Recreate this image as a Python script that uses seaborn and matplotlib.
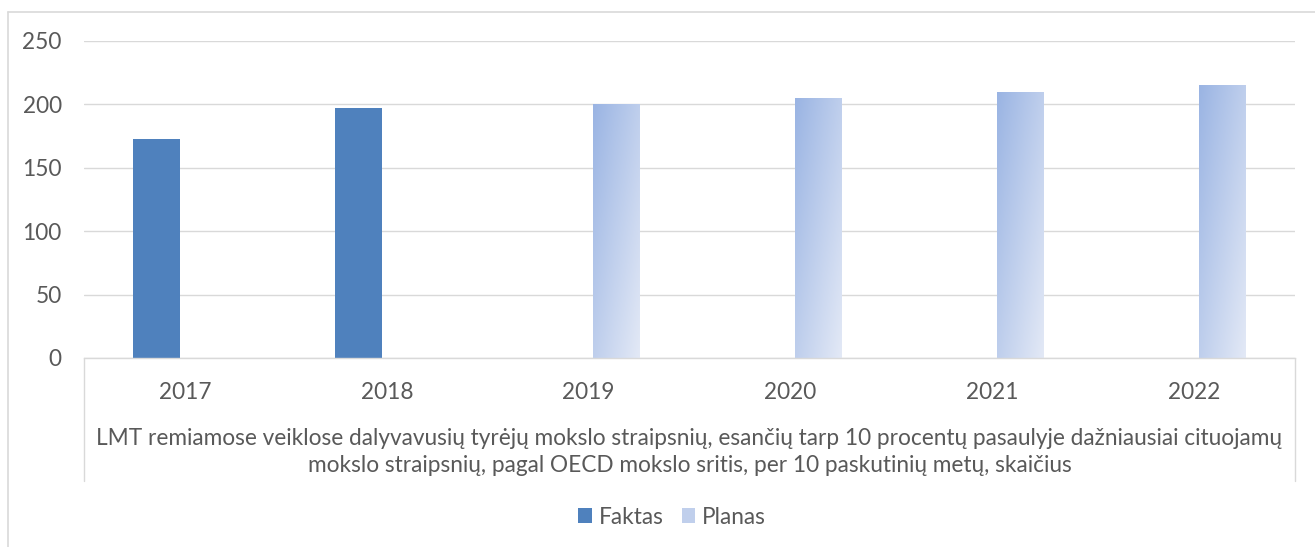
import numpy as np
import pandas as pd
import matplotlib.pyplot as plt
import seaborn as sns
from matplotlib.lines import Line2D
from matplotlib.patches import Patch

# Data
years = ["2017", "2018", "2019", "2020", "2021", "2022"]
fact_years = ["2017", "2018"]
fact_values = [173, 197]
plan_years = ["2019", "2020", "2021", "2022"]
plan_values = [200, 205, 210, 215]
series_names = ["Faktas", "Planas"]
y_ticks = [0, 50, 100, 150, 200, 250]
category_title = ("LMT remiamose veiklose dalyvavusių tyrėjų mokslo straipsnių, esančių tarp 10 procentų pasaulyje dažniausiai cituojamų\n"
                  "mokslo straipsnių, pagal OECD mokslo sritis, per 10 paskutinių metų, skaičius")

df = pd.DataFrame({
    "year": fact_years + plan_years,
    "series": ["Faktas"] * len(fact_years) + ["Planas"] * len(plan_years),
    "value": fact_values + plan_values,
})

sns.set_style("white")
plt.rcParams["font.family"] = ["Lato", "DejaVu Sans"]
text_color = "#595959"
grid_color = "#D9D9D9"
fact_color = "#4F81BD"
grad_top = np.array([0x9A, 0xB4, 0xE3]) / 255
grad_bot = np.array([0xE3, 0xE9, 0xF6]) / 255
fs = 16.3

fig = plt.figure(figsize=(13.15, 5.47), dpi=100)
ax = fig.add_axes([84 / 1315, 1 - 358 / 547, (1295 - 84) / 1315, 317 / 547])

sns.barplot(data=df, x="year", y="value", hue="series", order=years, hue_order=series_names,
            palette=[fact_color, "#C0CFEC"], width=0.56, gap=0.17, dodge=True,
            legend=False, ax=ax, errorbar=None, linewidth=0, saturation=1)

# gradient fill on the plan bars
ny, nx = 200, 40
u = np.linspace(0, 1, nx)[None, :]
v = np.linspace(0, 1, ny)[:, None]
t = (u + v) / 2
grad = grad_top[None, None, :] * (1 - t[..., None]) + grad_bot[None, None, :] * t[..., None]
for bar in ax.containers[1]:
    h = bar.get_height()
    if not np.isfinite(h) or h == 0:
        continue
    x0 = bar.get_x()
    w = bar.get_width()
    bar.set_facecolor("none")
    im = ax.imshow(grad, extent=(x0, x0 + w, 0, h), origin="upper", aspect="auto", zorder=bar.get_zorder())
    im.set_clip_path(bar)

ax.set_xlim(-0.5, 5.5)
ax.set_ylim(0, 250)
ax.set_yticks(y_ticks)
ax.yaxis.grid(True, color=grid_color, linewidth=1.0)
ax.set_axisbelow(True)
for side in ["top", "right", "left"]:
    ax.spines[side].set_visible(False)
ax.spines["bottom"].set_color(grid_color)
ax.spines["bottom"].set_linewidth(1.0)
ax.tick_params(axis="y", length=0, pad=16, labelsize=fs, labelcolor=text_color)
ax.tick_params(axis="x", length=0, pad=17, labelsize=fs, labelcolor=text_color)
ax.set_xlabel("")
ax.set_ylabel("")

# category axis side lines
drop = -(481 - 358) / 317
for xa in (0, 1):
    ax.plot([xa, xa], [0, drop], transform=ax.transAxes, color=grid_color, lw=1.0, clip_on=False)

fig.text((84 + 1295) / 2 / 1315, 1 - 452 / 547, category_title, ha="center", va="center",
         fontsize=fs, color=text_color, linespacing=1.3)

# outer chart border (only left and top visible)
fig.add_artist(Line2D([8 / 1315, 8 / 1315], [0, 1 - 12 / 547], transform=fig.transFigure, color=grid_color, lw=1.2))
fig.add_artist(Line2D([8 / 1315, 1], [1 - 12 / 547, 1 - 12 / 547], transform=fig.transFigure, color=grid_color, lw=1.2))

handles = [Patch(facecolor=fact_color, edgecolor="none"), Patch(facecolor="#C0CFEC", edgecolor="none")]
fig.legend(handles, series_names, loc="center", bbox_to_anchor=(672 / 1315, 1 - 517 / 547), ncol=2,
           frameon=False, fontsize=fs, labelcolor=text_color, handlelength=0.6, handleheight=0.6,
           handletextpad=0.3, columnspacing=0.8)

fig.savefig("out.png", dpi=100)
